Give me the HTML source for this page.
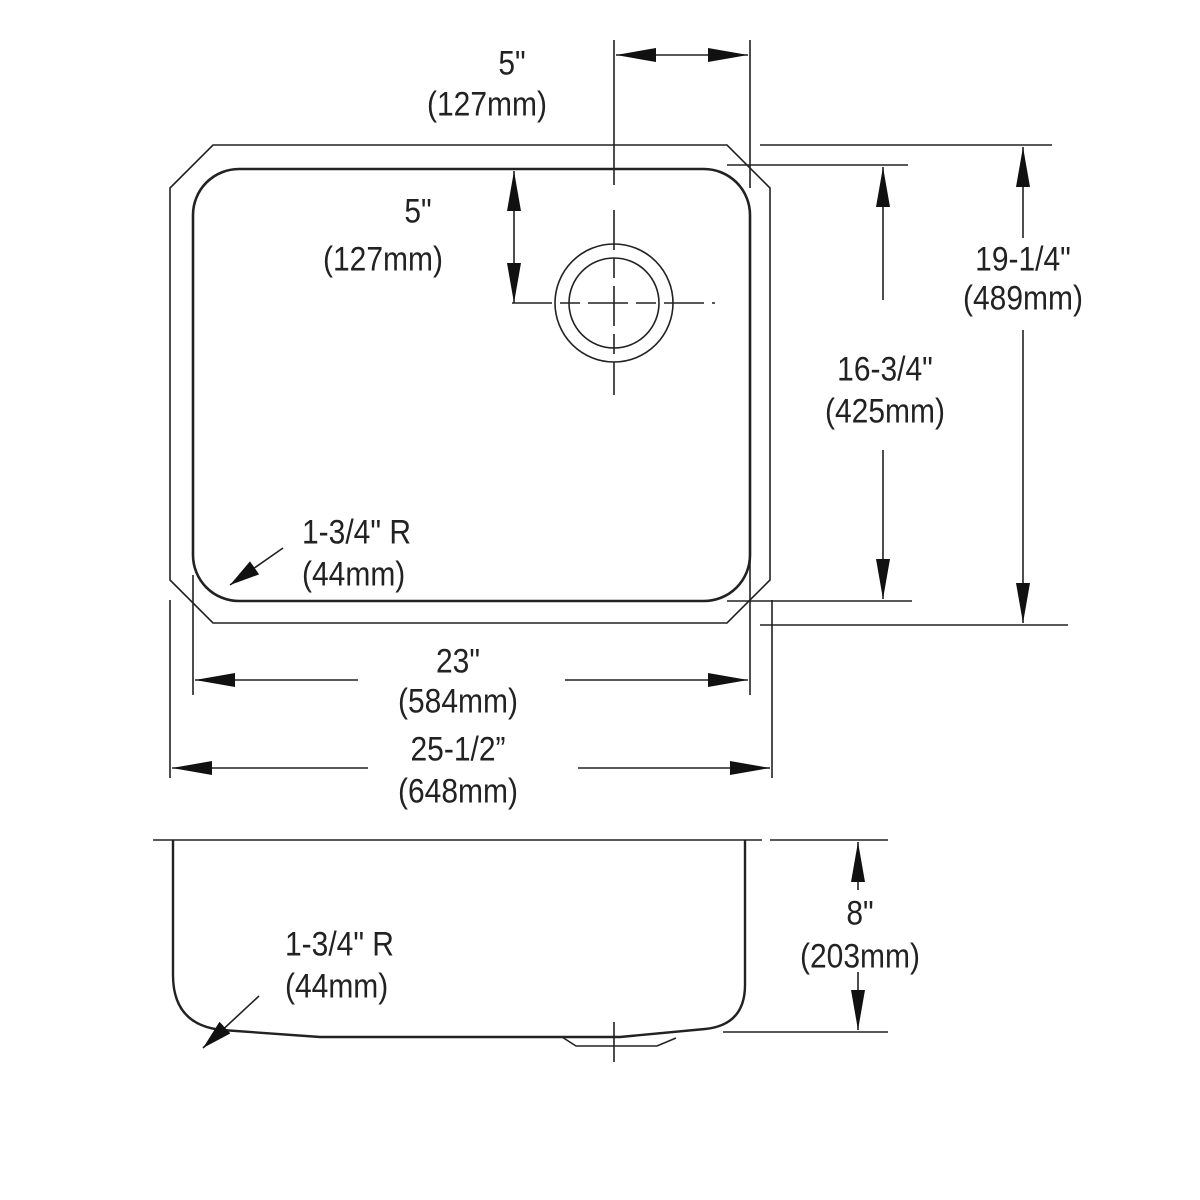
<!DOCTYPE html>
<html><head><meta charset="utf-8"><style>
html,body{margin:0;padding:0;background:#fff;}
svg{display:block}
text{font-family:"Liberation Sans Narrow","Liberation Sans",sans-serif;font-size:30px;fill:#222;text-anchor:middle;transform-box:fill-box;transform-origin:center;transform:scale(1,1.15)}
text.l{transform-origin:left center}
</style></head><body>
<svg width="1200" height="1200" viewBox="0 0 1200 1200" xmlns="http://www.w3.org/2000/svg">
<defs>
<marker id="a" viewBox="0 0 40 14" refX="40" refY="7" markerWidth="40" markerHeight="14" markerUnits="userSpaceOnUse" orient="auto-start-reverse">
<path d="M0,0 L40,7 L0,14 Z" fill="#111"/></marker>
<marker id="s" viewBox="0 0 30 16" refX="30" refY="8" markerWidth="30" markerHeight="16" markerUnits="userSpaceOnUse" orient="auto">
<path d="M0,0 L30,8 L0,16 Z" fill="#111"/></marker>
</defs>
<g stroke="#222" fill="none" stroke-width="1.6">
<polygon points="213,145 727,145 770,188 770,580 727,623 213,623 170,580 170,188"/>
<rect x="193" y="169" width="557" height="432" rx="46" stroke-width="2.6"/>
<circle cx="614" cy="303" r="59"/>
<circle cx="614" cy="303" r="45"/>
<line x1="512" y1="303" x2="715" y2="303" stroke-dasharray="40,8,20,8"/>
<line x1="614" y1="210" x2="614" y2="395" stroke-dasharray="40,8,20,8"/>
<line x1="614" y1="40" x2="614" y2="185"/>
<line x1="750" y1="40" x2="750" y2="188"/>
<line x1="616" y1="55" x2="748" y2="55" marker-start="url(#a)" marker-end="url(#a)"/>
<line x1="514" y1="171" x2="514" y2="303" marker-start="url(#a)" marker-end="url(#a)"/>
<line x1="760" y1="145" x2="1052" y2="145"/>
<line x1="727" y1="165" x2="908" y2="165"/>
<line x1="727" y1="601" x2="912" y2="601"/>
<line x1="760" y1="625" x2="1068" y2="625"/>
<line x1="883" y1="167" x2="883" y2="300" marker-start="url(#a)"/>
<line x1="883" y1="450" x2="883" y2="599" marker-end="url(#a)"/>
<line x1="1023" y1="147" x2="1023" y2="238" marker-start="url(#a)"/>
<line x1="1023" y1="330" x2="1023" y2="623" marker-end="url(#a)"/>
<line x1="193" y1="575" x2="193" y2="695"/>
<line x1="750" y1="560" x2="750" y2="695"/>
<line x1="170" y1="600" x2="170" y2="778"/>
<line x1="772" y1="600" x2="772" y2="778"/>
<line x1="358" y1="680" x2="195" y2="680" marker-end="url(#a)"/>
<line x1="565" y1="680" x2="748" y2="680" marker-end="url(#a)"/>
<line x1="368" y1="768" x2="172" y2="768" marker-end="url(#a)"/>
<line x1="578" y1="768" x2="770" y2="768" marker-end="url(#a)"/>
<line x1="283" y1="548" x2="230" y2="585" marker-end="url(#s)"/>
<line x1="153" y1="840" x2="762" y2="840"/>
<path d="M173,840 L173,975 Q173,1025 222,1030 L320,1037 L620,1037 L705,1029 Q745,1025 745,985 L745,840" stroke-width="2.4"/>
<path d="M562,1037 L576,1046 L657,1046 L676,1038"/>
<line x1="614" y1="1022" x2="614" y2="1062"/>
<line x1="770" y1="840" x2="888" y2="840"/>
<line x1="723" y1="1032" x2="888" y2="1032"/>
<line x1="858" y1="842" x2="858" y2="890" marker-start="url(#a)"/>
<line x1="858" y1="972" x2="858" y2="1030" marker-end="url(#a)"/>
<line x1="259" y1="996" x2="203" y2="1048" marker-end="url(#s)"/>
</g>
<text x="512" y="73">5"</text>
<text x="487" y="114">(127mm)</text>
<text x="418" y="221">5"</text>
<text x="383" y="269">(127mm)</text>
<text x="885" y="379">16-3/4"</text>
<text x="885" y="421">(425mm)</text>
<text x="1023" y="269">19-1/4"</text>
<text x="1023" y="308">(489mm)</text>
<text x="458" y="671">23"</text>
<text x="458" y="711">(584mm)</text>
<text x="458" y="759">25-1/2”</text>
<text x="458" y="801">(648mm)</text>
<text class="l" x="302" y="542" style="text-anchor:start">1-3/4" R</text>
<text class="l" x="302" y="584" style="text-anchor:start">(44mm)</text>
<text x="860" y="923">8"</text>
<text x="860" y="966">(203mm)</text>
<text class="l" x="285" y="954" style="text-anchor:start">1-3/4" R</text>
<text class="l" x="285" y="996" style="text-anchor:start">(44mm)</text>
</svg>
</body></html>
